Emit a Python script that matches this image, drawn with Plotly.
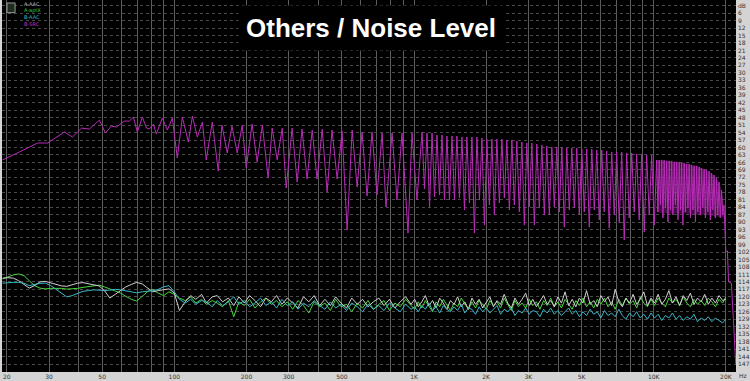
import math
import plotly.graph_objects as go

# ---------------- data ----------------
# B-SRC (magenta) spectrum: frequency (Hz) and level (dB below 0)
src_f = [19.2, 22.6, 26.9, 29.6, 34.8, 37.6, 41.0, 44.2, 48.7, 51.6, 54.6, 57.3, 61.9, 64.9, 67.5,
         70.1, 73.6, 76.5, 78.7, 81.8, 84.1, 89.1, 93.5, 98.1, 102.9, 108, 114.4, 119, 124.7, 131,
         135.9, 144, 152.5, 158, 166.2, 174, 183, 192, 199.5, 211, 221.6, 233, 246.3, 256, 268.6,
         282, 292.9, 310, 325.5, 341, 358, 376, 394, 414, 434, 455, 478, 501, 526, 552, 579, 607,
         637, 668, 701, 736, 764, 810, 849, 891, 944, 981, 1029, 1080,
         1106, 1133, 1161, 1189, 1218, 1247, 1277, 1308, 1340, 1372, 1406, 1440, 1475, 1510, 1547,
         1585, 1624, 1662, 1703, 1744, 1786, 1830, 1875, 1920, 1967, 2014, 2063, 2113, 2164, 2217,
         2271, 2326, 2382, 2440, 2500, 2560, 2622, 2685, 2750, 2818, 2886, 2955, 3027, 3102, 3177,
         3254, 3333, 3415, 3497, 3582, 3669, 3758, 3849, 3942, 4038, 4137, 4237, 4340, 4446, 4554,
         4664, 4777, 4893, 5012, 5134, 5258, 5386, 5517, 5651, 5788, 5928, 6070, 6217, 6368, 6524,
         6683, 6845, 7011, 7181, 7356, 7535, 7716, 7904, 8097, 8294, 8493, 8700, 8913, 9130, 9350,
         9577, 9810, 10050,
         10290, 10415, 10540, 10670, 10800, 10930, 11060, 11200, 11330, 11470, 11610, 11750,
         11890, 12030, 12180, 12330, 12480, 12630, 12780, 12930, 13080, 13240, 13400, 13560,
         13730, 13900, 14060, 14230, 14400, 14580, 14750, 14930, 15110, 15290, 15480, 15660,
         15850, 16040, 16240, 16430, 16620, 16820, 17030, 17230, 17440, 17650, 17860, 18070,
         18290, 18510, 18740, 18960, 19190, 19420, 19650,
         20000, 20300, 20530, 21100, 22000]
src_db = [65.0, 61.8, 58.2, 58.2, 53.8, 55.8, 52.2, 52.6, 49.0, 54.2, 51.4, 51.8, 49.4, 49.4, 47.8,
          53.8, 47.8, 52.2, 52.6, 50.6, 54.6, 48.2, 53.0, 48.2, 64.2, 47.8, 57.8, 47.4, 55.8, 49.8,
          65.0, 49.8, 69.5, 51.0, 62.2, 51.4, 62.2, 51.0, 68.3, 50.6, 65.8, 51.0, 72.3, 52.2, 65.0,
          52.2, 76.3, 52.2, 73.9, 52.6, 72.7, 53.0, 72.7, 52.6, 77.9, 53.0, 72.7, 53.4, 93.2, 53.0,
          75.9, 53.8, 79.5, 53.8, 79.1, 54.2, 83.9, 54.2, 81.1, 54.2, 94.4, 54.2, 81.1, 53.8,
          76.7, 54.2, 83.9, 54.2, 79.9, 55.0, 79.1, 55.0, 81.1, 55.4, 81.1, 55.4, 81.1, 55.4, 80.3,
          55.8, 85.1, 55.8, 82.3, 55.8, 94.4, 55.8, 81.1, 56.2, 91.2, 56.6, 83.1, 56.6, 87.1, 56.6,
          82.3, 56.6, 80.3, 57.0, 85.1, 57.0, 83.1, 57.4, 85.9, 57.8, 91.2, 58.2, 83.9, 58.2, 91.2,
          58.6, 84.3, 59.0, 87.1, 59.4, 87.1, 59.8, 83.9, 59.8, 85.9, 59.8, 92.0, 60.2, 85.1, 60.2,
          84.3, 60.2, 87.1, 60.6, 85.9, 60.6, 92.0, 60.6, 85.1, 61.0, 89.1, 61.0, 85.9, 61.4, 92.4,
          61.8, 87.1, 61.8, 90.3, 61.8, 97.2, 62.2, 88.3, 62.2, 85.9, 62.6, 89.1, 62.6, 94.0, 63.0,
          87.1, 63.0, 91.2,
          65.0, 85.9, 65.0, 83.1, 65.0, 88.3, 65.0, 84.3, 65.4, 89.9, 65.4, 85.1,
          65.4, 87.1, 65.8, 83.1, 65.8, 89.1, 65.8, 85.1, 66.2, 91.2, 66.2, 85.9,
          66.6, 84.3, 66.6, 88.3, 67.0, 85.1, 67.4, 89.9, 67.4, 85.9, 67.8, 87.1,
          68.3, 84.3, 68.7, 88.3, 69.1, 85.9, 69.5, 89.1, 70.3, 85.1, 71.1, 88.3,
          72.3, 87.1, 73.9, 88.3, 77.1, 87.1, 83.1,
          102.0, 101.5, 114.0, 114.5, 147.0]

# dense band (10k-20k) envelope
band_f = [10290, 11330, 12480, 13730, 15110, 16620, 17860, 18740, 19190, 19650]
band_top = [65.0, 65.4, 65.8, 66.6, 67.4, 69.1, 71.1, 73.9, 77.1, 83.1]
band_bot = [86.0, 86.5, 86.5, 86.5, 87.0, 87.0, 87.5, 88.0, 88.0, 88.0]

# noise traces: common frequency grid
noise_f = [19.2, 20.2, 21.3, 22.4, 23.6, 24.8, 26.1, 27.5, 29, 30.5,
           32.1, 33.8, 35.6, 37.5, 39.5, 41.6, 43.8, 46.1, 48.5, 51.1,
           53.8, 56.7, 59.7, 62.8, 66.2, 69.7, 73.4, 77.2, 81.3, 85.6,
           90.2, 95, 100, 105, 111, 117, 123, 130, 136, 144,
           151, 159, 168, 177, 186, 196, 206, 217, 229, 241,
           254, 267, 281, 296, 312, 328, 346, 364, 383, 404,
           425, 448, 471, 496, 523, 550, 580, 610, 643, 677,
           713, 750, 790, 832, 876, 923, 972,
           1006, 1041, 1078, 1115, 1154, 1195, 1237, 1280, 1325, 1371,
           1419, 1469, 1520, 1574, 1629, 1686, 1745, 1806, 1869, 1934,
           2002, 2072, 2145, 2220, 2297, 2378, 2461, 2547, 2636, 2729,
           2824, 2923, 3025, 3131, 3241, 3354, 3472, 3593, 3719, 3849,
           3984, 4123, 4268, 4417, 4572, 4732, 4897, 5069, 5246, 5430,
           5620, 5816, 6020, 6231, 6449, 6674, 6908, 7150, 7400, 7659,
           7927, 8204, 8492, 8789, 9096, 9415, 9744, 10085, 10438, 10804,
           11182, 11573, 11978, 12397, 12831, 13280, 13745, 14226, 14724, 15239,
           15773, 16325, 16896, 17487, 18099, 18733, 19389, 20000]

aptx_db = [112.8, 112.0, 111.2, 110.8, 111.5, 113.5, 115.5, 116.5, 116.8, 116.6,
           116.5, 116.6, 116.9, 116.8, 116.6, 116.2, 115.8, 115.4, 115.3, 116.0,
           116.8, 117.5, 118.5, 119.8, 121.0, 121.7, 120.0, 118.0, 117.0, 118.5,
           119.5, 118.0, 119.0, 120.5, 121.5, 120.0, 122.5, 121.0, 123.0, 121.5,
           122.5, 124.0, 121.5, 128.0, 122.0, 123.5, 121.0, 124.5, 122.0, 120.5,
           123.0, 121.5, 124.0, 122.0, 125.0, 121.5, 123.5, 126.5, 122.0, 124.0,
           122.5, 125.5, 121.0, 124.0, 123.0, 126.0, 122.5, 124.5, 121.5, 125.0,
           123.0, 121.5, 125.5, 122.5, 124.0, 121.0, 123.5,
           125.0, 122.0, 124.5, 121.5, 123.5, 126.0, 122.0, 124.0, 121.0, 123.5,
           125.5, 122.5, 124.0, 120.5, 123.0, 125.0, 122.0, 124.5, 121.5, 123.0,
           125.0, 121.5, 123.5, 122.0, 124.5, 120.5, 123.0, 125.5, 121.5, 124.0,
           122.5, 124.5, 121.0, 123.5, 122.0, 125.0, 121.5, 123.5, 120.5, 124.0,
           122.0, 124.5, 121.0, 123.0, 125.0, 121.5, 123.5, 120.5, 124.0, 122.0,
           124.5, 121.0, 123.0, 120.5, 124.0, 122.0, 125.0, 121.0, 123.5, 120.5,
           123.0, 121.5, 124.5, 120.0, 122.5, 124.0, 121.0, 123.5, 120.5, 122.5,
           124.0, 120.5, 122.5, 121.0, 123.5, 120.0, 122.5, 124.0, 121.0, 123.0,
           121.5, 123.5, 120.5, 122.0, 124.0, 121.0, 122.5, 120.0]

aaac_db = [112.5, 112.3, 112.5, 113.5, 115.0, 116.5, 115.5, 114.0, 113.8, 114.3,
           115.0, 115.6, 115.8, 115.2, 114.5, 114.3, 114.8, 115.3, 115.6, 117.5,
           120.5, 119.0, 117.5, 116.0, 115.0, 114.2, 114.8, 116.5, 118.0, 117.5,
           117.0, 116.8, 118.5, 125.5, 122.0, 119.5, 121.0, 119.0, 122.5, 120.0,
           119.5, 122.0, 120.5, 123.5, 120.0, 122.5, 119.5, 121.5, 124.0, 120.5,
           122.0, 119.5, 123.0, 120.5, 122.5, 124.5, 120.0, 122.0, 119.5, 123.5,
           121.0, 123.5, 120.0, 122.5, 124.5, 120.5, 123.0, 121.0, 124.0, 122.0,
           120.5, 123.5, 121.0, 124.5, 122.0, 120.0, 123.0,
           121.0, 124.0, 122.0, 119.5, 123.5, 121.5, 124.5, 120.5, 122.5, 125.0,
           121.5, 123.0, 120.0, 124.0, 122.0, 125.0, 120.5, 123.0, 121.0, 124.5,
           122.0, 120.0, 124.0, 121.5, 123.0, 119.0, 122.5, 124.5, 120.5, 123.0,
           121.0, 118.5, 123.5, 121.0, 124.0, 122.0, 119.5, 123.0, 121.5, 124.0,
           120.0, 122.5, 118.0, 123.5, 121.0, 124.0, 120.5, 122.5, 117.5, 123.0,
           121.5, 124.0, 119.5, 122.0, 120.0, 123.5, 117.0, 122.0, 124.0, 120.5,
           122.5, 119.0, 123.0, 121.0, 118.0, 123.5, 120.5, 122.5, 119.0, 123.0,
           121.0, 117.5, 122.5, 120.0, 123.5, 119.5, 121.5, 118.5, 123.0, 120.5,
           122.0, 119.0, 123.0, 120.5, 122.5, 119.5, 121.5, 121.0]

baac_db = [114.5, 114.3, 114.2, 114.2, 114.5, 115.5, 115.0, 114.6, 114.5, 115.5,
           117.0, 118.5, 120.0, 119.5, 118.5, 117.8, 117.5, 117.2, 117.3, 117.5,
           117.3, 117.0, 117.2, 117.6, 118.0, 118.4, 118.0, 117.8, 117.5, 117.0,
           116.0, 115.5, 118.0, 121.0, 122.5, 121.0, 123.0, 121.5, 122.0, 124.0,
           121.5, 123.5, 122.0, 120.0, 123.0, 121.5, 124.0, 122.5, 120.5, 123.5,
           122.0, 124.5, 121.0, 123.5, 122.0, 125.0, 122.5, 124.0, 121.5, 123.5,
           125.0, 122.0, 124.5, 123.0, 125.5, 122.5, 124.0, 126.0, 123.0, 125.0,
           123.5, 125.5, 122.5, 124.5, 126.0, 123.0, 125.0,
           124.0, 126.0, 123.5, 125.0, 122.5, 125.5, 124.0, 126.5, 123.5, 125.0,
           126.0, 124.0, 125.5, 123.0, 126.5, 124.5, 125.0, 127.0, 124.0, 126.0,
           124.5, 126.5, 125.0, 123.5, 127.0, 125.0, 126.0, 124.5, 127.5, 125.5,
           126.5, 124.5, 127.0, 125.5, 126.0, 128.0, 125.0, 126.5, 124.5, 127.0,
           125.5, 127.5, 126.0, 124.5, 127.0, 125.5, 128.0, 126.0, 127.5, 125.0,
           127.0, 126.0, 128.5, 125.5, 127.5, 126.5, 128.0, 125.0, 127.5, 129.0,
           126.5, 128.0, 126.0, 128.5, 127.0, 129.0, 126.5, 128.5, 127.0, 129.5,
           127.5, 128.5, 126.5, 129.0, 127.5, 129.5, 128.0, 129.0, 127.0, 130.0,
           128.5, 129.5, 128.0, 130.0, 128.5, 129.5, 130.5, 129.0]

# axis ticks
x_grid = [20, 30, 40, 50, 60, 70, 80, 90, 100, 200, 300, 400, 500, 600, 700, 800, 900,
          1000, 2000, 3000, 4000, 5000, 6000, 7000, 8000, 9000, 10000, 20000]
x_labels = {20: "20", 30: "30", 50: "50", 100: "100", 200: "200", 300: "300", 500: "500",
            1000: "1K", 2000: "2K", 3000: "3K", 5000: "5K", 10000: "10K", 20000: "20K"}
y_ticks = list(range(3, 150, 3))

legend_names = ["A-AAC", "A-aptX", "B-AAC", "B-SRC"]
legend_colors = ["#bdbdbd", "#3fd03f", "#3fb4c4", "#c030c0"]

# ---------------- figure ----------------
fig = go.Figure()

fig.add_trace(go.Scatter(x=noise_f[:len(aptx_db)], y=aptx_db, mode="lines",
                         line=dict(color="#48d83c", width=1), hoverinfo="skip"))
fig.add_trace(go.Scatter(x=noise_f[:len(aaac_db)], y=aaac_db, mode="lines",
                         line=dict(color="#cfcfcf", width=1), hoverinfo="skip"))
fig.add_trace(go.Scatter(x=noise_f[:len(baac_db)], y=baac_db, mode="lines",
                         line=dict(color="#3ab8c8", width=1), hoverinfo="skip"))

fig.add_trace(go.Scatter(x=band_f, y=band_top, mode="lines", line=dict(width=0),
                         hoverinfo="skip"))
fig.add_trace(go.Scatter(x=band_f, y=band_bot, mode="lines", line=dict(width=0),
                         fill="tonexty", fillcolor="rgba(150,30,150,0.45)", hoverinfo="skip"))
fig.add_trace(go.Scatter(x=src_f, y=src_db, mode="lines",
                         line=dict(color="#b82cb8", width=1, simplify=False), hoverinfo="skip"))

fig.update_layout(
    width=750, height=381,
    margin=dict(l=2, r=12, t=0, b=9),
    paper_bgcolor="#d4d4d4", plot_bgcolor="#000000",
    showlegend=False,
    font=dict(family="DejaVu Sans", size=6, color="#333333"),
)
fig.update_xaxes(
    type="log", range=[math.log10(19.1), math.log10(22050)],
    tickvals=x_grid, ticktext=[x_labels.get(v, "") for v in x_grid],
    tickfont=dict(size=6, color="#333333"),
    showgrid=True, gridcolor="#5c5c5c", gridwidth=1,
    zeroline=False, showline=False, ticks="", ticklabelstandoff=0,
)
fig.update_yaxes(
    side="right", range=[150.2, 0.75],
    tickvals=y_ticks, ticktext=["dB" if v == 3 else str(v) for v in y_ticks],
    tickfont=dict(size=6, color="#333333"),
    showgrid=True, gridcolor="#4a4a4a", gridwidth=1, griddash="dot",
    zeroline=False, showline=False, ticks="", ticklabelstandoff=1,
)

# title box
fig.add_annotation(text="<b>Others / Noise Level</b>", xref="paper", yref="paper",
                   x=0.5025, y=0.925, xanchor="center", yanchor="middle", showarrow=False,
                   font=dict(family="Liberation Sans", size=26, color="#ffffff"),
                   bgcolor="#000000", borderpad=7)

# legend (top-left, small text)
fig.add_shape(type="rect", xref="paper", yref="paper", x0=0.0068, x1=0.0178, y0=0.966, y1=0.992,
              line=dict(color="#9a9a9a", width=1), fillcolor="#1e2e1e")
for i, (name, col) in enumerate(zip(legend_names, legend_colors)):
    fig.add_annotation(text=name, xref="paper", yref="paper", x=0.027,
                       y=0.989 - i * 0.0175, xanchor="left", yanchor="middle",
                       showarrow=False, font=dict(size=5, color=col))

fig.add_annotation(text="Hz", xref="paper", yref="paper", x=1.002, y=-0.0235,
                   xanchor="left", yanchor="bottom", showarrow=False,
                   font=dict(size=6, color="#333333"))

fig.write_html("out.html", config={"displayModeBar": False},
               post_script="document.body.style.margin='0';document.body.style.padding='0';")
